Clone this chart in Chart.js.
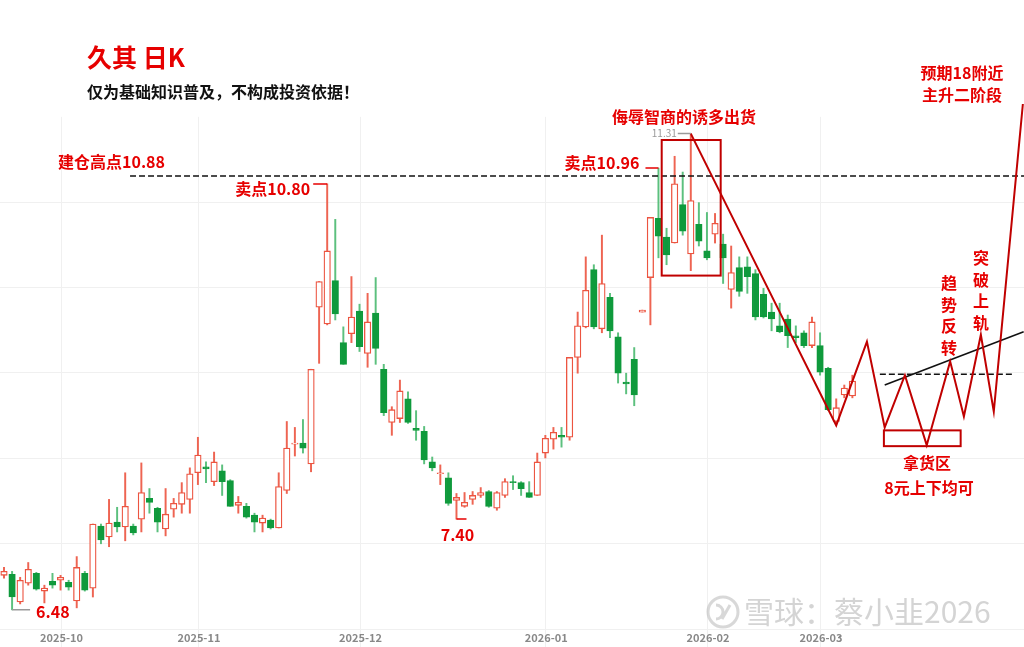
<!DOCTYPE html>
<html>
<head>
<meta charset="utf-8">
<script src="https://cdn.jsdelivr.net/npm/chart.js@4.4.1/dist/chart.umd.min.js"></script>
<style>
  html, body { margin: 0; padding: 0; background: #fff; }
  #wrap { width: 1024px; height: 647px; position: relative; }
</style>
</head>
<body>
<div id="wrap"><canvas id="kChart"></canvas></div>
<script>
// daily candles, one per trading day (index 0 = 2025-09-22)
const opens = [6.83,6.84,6.56,6.75,6.85,6.67,6.77,6.78,6.76,6.57,6.85,6.70,7.33,7.22,7.37,7.32,7.33,7.40,7.61,7.51,
  7.30,7.50,7.55,7.60,7.87,7.93,7.78,7.89,7.79,7.54,7.53,7.44,7.36,7.39,7.31,7.69,8.16,8.17,7.96,9.55,
  9.38,9.82,9.19,9.28,9.51,9.08,9.49,8.92,8.38,8.42,8.62,8.32,8.29,7.98,7.86,7.82,7.59,7.53,7.60,7.64,
  7.68,7.51,7.64,7.78,7.77,7.67,7.64,8.07,8.21,8.25,8.23,9.04,9.35,9.93,9.33,9.65,9.25,8.79,9.02,9.50,
  9.85,10.45,10.26,10.20,10.59,10.09,10.39,10.12,10.29,10.19,9.73,9.95,9.96,9.89,9.68,9.50,9.36,9.43,9.26,9.29,
  9.16,9.16,8.93,8.39,8.66,8.65];
const highs = [6.91,6.87,6.81,6.96,6.86,6.73,6.85,6.83,6.78,7.02,6.87,7.35,7.35,7.60,7.52,7.87,7.35,7.97,7.71,7.52,
  7.71,7.61,7.77,7.92,8.23,7.98,8.08,7.95,7.80,7.63,7.56,7.46,7.44,7.40,7.87,8.39,8.33,8.41,8.92,9.81,
  10.80,10.44,9.35,9.86,9.58,9.69,9.85,8.97,8.54,8.81,8.69,8.50,8.34,8.03,7.95,7.87,7.66,7.67,7.68,7.72,
  7.69,7.68,7.81,7.84,7.78,7.78,8.07,8.25,8.33,8.33,9.04,9.50,10.06,9.98,10.28,9.69,9.29,8.88,9.14,9.52,
  10.46,10.96,10.35,11.08,10.92,11.31,10.61,10.51,10.50,10.29,10.17,10.06,10.06,9.93,9.74,9.59,9.59,9.47,9.36,9.31,
  9.45,9.29,8.94,8.62,8.76,8.86];
const lows = [6.80,6.48,6.54,6.73,6.68,6.55,6.70,6.68,6.68,6.50,6.67,6.61,7.15,7.12,7.27,7.18,7.24,7.27,7.46,7.27,
  7.23,7.42,7.46,7.46,7.75,7.77,7.74,7.64,7.53,7.46,7.41,7.27,7.27,7.30,7.31,7.66,8.04,8.07,7.88,8.98,
  9.37,9.42,8.97,9.19,9.10,8.94,8.97,8.45,8.25,8.38,8.37,8.20,7.96,7.89,7.75,7.54,7.40,7.52,7.55,7.62,
  7.52,7.49,7.62,7.70,7.64,7.62,7.64,8.02,8.11,8.13,8.20,8.88,9.34,9.33,9.29,9.24,8.78,8.67,8.55,9.50,
  9.37,10.05,9.98,10.20,10.28,9.92,10.17,10.03,10.20,9.79,9.54,9.66,9.69,9.42,9.44,9.31,9.29,9.14,9.19,9.14,
  9.14,8.86,8.50,8.37,8.63,8.63];
const closes = [6.87,6.61,6.78,6.89,6.69,6.70,6.73,6.81,6.71,6.91,6.68,7.35,7.19,7.36,7.32,7.53,7.26,7.67,7.57,7.37,
  7.45,7.56,7.67,7.86,8.05,7.91,7.98,7.78,7.53,7.57,7.42,7.37,7.41,7.31,7.73,8.12,8.17,8.12,8.92,9.81,
  10.12,9.48,8.97,9.45,9.15,9.40,9.13,8.48,8.51,8.70,8.38,8.30,8.00,7.92,7.87,7.56,7.62,7.57,7.64,7.67,
  7.53,7.67,7.78,7.77,7.71,7.62,7.98,8.22,8.28,8.23,9.04,9.36,9.72,9.35,9.79,9.31,8.88,8.77,8.66,9.52,
  10.46,10.27,10.08,10.80,10.32,10.63,10.22,10.05,10.40,10.05,9.90,9.71,9.86,9.45,9.45,9.43,9.30,9.26,9.24,9.16,
  9.40,8.89,8.51,8.53,8.73,8.80];

// first trading day of each month and its tick label
const monthTicks = [7, 24, 44, 67, 87, 101];
const monthLabels = ['2025-10', '2025-11', '2025-12', '2026-01', '2026-02', '2026-03'];
const gridPrices = [10.616, 9.754, 8.892, 8.020, 7.158, 6.286];
const gridTop = 11.48;

// hand-drawn projection (zigzag) and breakout trend line
const planX = [85, 103, 106.8, 109.0, 111.5, 114.2, 117.1, 118.8, 120.9, 122.5, 126.1];
const planY = [11.31, 8.35, 9.20, 8.33, 8.86, 8.15, 9.00, 8.44, 9.27, 8.49, 11.61];
const trendX = [109.0, 126.2];
const trendY = [8.76, 9.30];
const costLine = 10.88;
const neckLine = 8.87;
const shipBox = [81.4, 88.7, 11.245, 9.87];
const buyBox = [108.9, 118.4, 8.30, 8.14];

const UP = '#ec5440', UP_WICK = '#ee6452';
const DOWN = '#0f9a3c', DOWN_WICK = '#5cc07e';
const TXT_RED = '#e60000', PLAN_RED = '#c00000';
const FONT = '"Noto Sans CJK SC", "Noto Sans", sans-serif';

const isUp = i => closes[i] >= opens[i];

// light grid, starting below the title block
const grid = {
  id: 'grid',
  beforeDatasetsDraw(chart) {
    const { ctx, chartArea, scales: { x, y } } = chart;
    ctx.save();
    ctx.strokeStyle = '#f0f0f0';
    ctx.lineWidth = 1;
    ctx.beginPath();
    monthTicks.forEach(t => {
      const px = Math.round(x.getPixelForValue(t)) + 0.5;
      ctx.moveTo(px, y.getPixelForValue(gridTop));
      ctx.lineTo(px, chartArea.bottom);
    });
    gridPrices.forEach(v => {
      const py = Math.round(y.getPixelForValue(v)) + 0.5;
      ctx.moveTo(chartArea.left, py);
      ctx.lineTo(chartArea.right, py);
    });
    ctx.stroke();
    ctx.restore();
  }
};

const annotate = {
  id: 'annotate',
  afterDatasetsDraw(chart) {
    const { ctx, scales: { x, y } } = chart;
    const X = v => x.getPixelForValue(v);
    const Y = v => y.getPixelForValue(v);
    ctx.save();

    // boxes
    ctx.strokeStyle = PLAN_RED;
    ctx.lineWidth = 2;
    [shipBox, buyBox].forEach(b => {
      ctx.strokeRect(X(b[0]), Y(b[2]), X(b[1]) - X(b[0]), Y(b[3]) - Y(b[2]));
    });

    // price markers
    ctx.lineWidth = 1.5;
    ctx.strokeStyle = TXT_RED;
    ctx.beginPath();
    ctx.moveTo(X(40) - 14, Y(10.80)); ctx.lineTo(X(40), Y(10.80));
    ctx.moveTo(X(81) - 13, Y(10.96)); ctx.lineTo(X(81), Y(10.96));
    ctx.moveTo(X(56), Y(7.40)); ctx.lineTo(X(56) + 10, Y(7.40));
    ctx.stroke();
    ctx.strokeStyle = '#9a9a9a';
    ctx.beginPath();
    ctx.moveTo(X(85) - 13, Y(11.31)); ctx.lineTo(X(85), Y(11.31));
    ctx.moveTo(X(1), Y(6.48)); ctx.lineTo(X(1) + 18, Y(6.48));
    ctx.stroke();

    ctx.textBaseline = 'middle';
    ctx.fillStyle = TXT_RED;
    ctx.font = 'bold 16px ' + FONT;
    ctx.textAlign = 'right';
    ctx.fillText('卖点10.80', X(40) - 17, Y(10.80) + 5);
    ctx.fillText('卖点10.96', X(81) - 19, Y(10.96) - 5);
    ctx.textAlign = 'left';
    ctx.fillText('建仓高点10.88', 58, Y(costLine) - 14);
    ctx.fillText('6.48', X(1) + 24, Y(6.48) + 2);
    ctx.textAlign = 'center';
    ctx.fillText('7.40', X(56) + 1, Y(7.40) + 16);
    ctx.fillText('侮辱智商的诱多出货', 684, 117);
    ctx.fillText('预期18附近', 962, 73);
    ctx.fillText('主升二阶段', 962, 95);
    ctx.fillText('拿货区', 927, 463);
    ctx.fillText('8元上下均可', 929, 488);
    '趋势反转'.split('').forEach((c, k) => ctx.fillText(c, 949, 283 + k * 21.5));
    '突破上轨'.split('').forEach((c, k) => ctx.fillText(c, 981, 258 + k * 21.5));

    ctx.fillStyle = '#9a9a9a';
    ctx.font = '10px ' + FONT;
    ctx.textAlign = 'right';
    ctx.fillText('11.31', X(85) - 14, Y(11.31));

    // title
    ctx.textAlign = 'left';
    ctx.fillStyle = TXT_RED;
    ctx.font = 'bold 25px ' + FONT;
    ctx.fillText('久其 日K', 87, 57);
    ctx.fillStyle = '#111';
    ctx.font = 'bold 16px ' + FONT;
    ctx.fillText('仅为基础知识普及，不构成投资依据！', 87, 92);

    // month labels
    ctx.fillStyle = '#888';
    ctx.font = 'bold 11px ' + FONT;
    ctx.textAlign = 'center';
    monthTicks.forEach((t, k) => ctx.fillText(monthLabels[k], X(t) + 1, 638));

    // watermark
    ctx.globalAlpha = 0.55;
    ctx.strokeStyle = '#b8b8b8';
    ctx.lineWidth = 3;
    ctx.beginPath();
    ctx.arc(723, 612, 15, 0, Math.PI * 2);
    ctx.stroke();
    ctx.beginPath();
    ctx.arc(716, 612, 7, -Math.PI / 2, Math.PI / 2);
    ctx.moveTo(730, 605); ctx.lineTo(722, 619);
    ctx.stroke();
    ctx.fillStyle = '#b0b0b0';
    ctx.font = '30px ' + FONT;
    ctx.textAlign = 'left';
    ctx.fillText('雪球：蔡小韭2026', 744, 612);
    ctx.restore();
  }
};

const idx = opens.map((_, i) => i);

new Chart(document.getElementById('kChart'), {
  type: 'bar',
  data: {
    datasets: [
      {
        label: 'wick',
        data: idx.map(i => ({ x: i, y: [lows[i], highs[i]] })),
        backgroundColor: idx.map(i => isUp(i) ? UP_WICK : DOWN_WICK),
        barThickness: 1.3,
        grouped: false,
        order: 3
      },
      {
        label: 'body',
        data: idx.map(i => ({ x: i, y: [opens[i], closes[i]] })),
        backgroundColor: idx.map(i => isUp(i) ? '#ffffff' : DOWN),
        borderColor: idx.map(i => isUp(i) ? UP : DOWN),
        borderWidth: 1.3,
        borderSkipped: false,
        barThickness: 6.5,
        grouped: false,
        order: 2
      },
      {
        type: 'line',
        label: 'cost',
        data: [{ x: 15.6, y: costLine }, { x: 126.3, y: costLine }],
        borderColor: '#111',
        borderWidth: 1.5,
        borderDash: [6, 3],
        pointRadius: 0,
        order: 1
      },
      {
        type: 'line',
        label: 'neck',
        data: [{ x: 108.4, y: neckLine }, { x: 125.1, y: neckLine }],
        borderColor: '#111',
        borderWidth: 1.5,
        borderDash: [6, 3],
        pointRadius: 0,
        order: 1
      },
      {
        type: 'line',
        label: 'trend',
        data: trendX.map((v, k) => ({ x: v, y: trendY[k] })),
        borderColor: '#111',
        borderWidth: 1.6,
        pointRadius: 0,
        order: 1
      },
      {
        type: 'line',
        label: 'plan',
        data: planX.map((v, k) => ({ x: v, y: planY[k] })),
        borderColor: PLAN_RED,
        borderWidth: 2,
        pointRadius: 0,
        tension: 0,
        clip: false,
        order: 0
      }
    ]
  },
  options: {
    responsive: true,
    maintainAspectRatio: false,
    animation: false,
    layout: { padding: 0, autoPadding: false },
    plugins: { legend: { display: false }, tooltip: { enabled: false } },
    scales: {
      x: {
        type: 'linear',
        min: -0.495,
        max: 126.24,
        offset: false,
        ticks: { display: false },
        grid: { display: false, offset: false },
        border: { display: false },
        afterFit: s => { s.height = 0; }
      },
      y: {
        min: 6.103,
        max: 12.665,
        beginAtZero: false,
        ticks: { display: false },
        grid: { display: false },
        border: { display: false },
        afterFit: s => { s.width = 0; }
      }
    }
  },
  plugins: [grid, annotate]
});
</script>
</body>
</html>
